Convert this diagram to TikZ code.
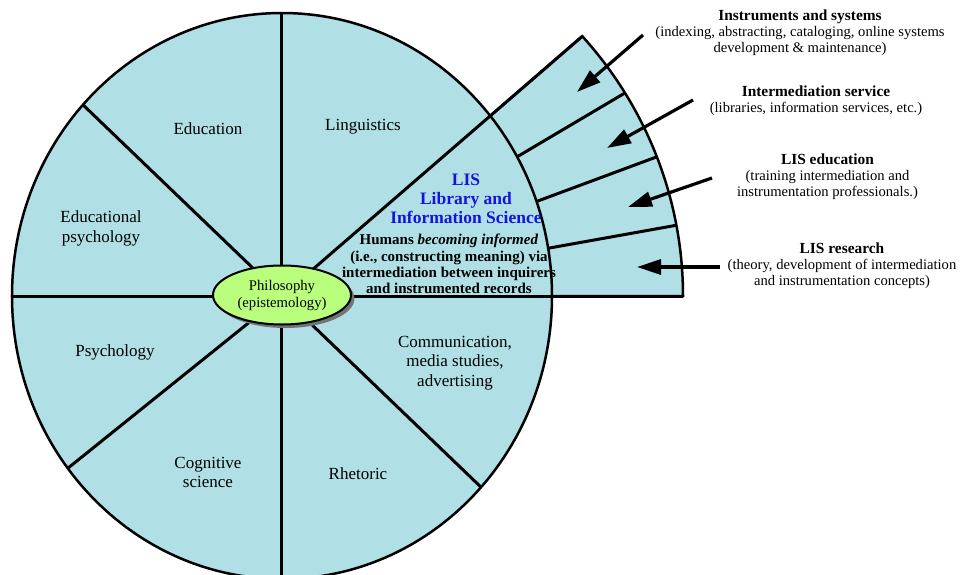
\documentclass[tikz,border=0pt]{standalone}
\usepackage{fontspec}
\setmainfont{Liberation Serif}
\usepackage{tikz}
\usetikzlibrary{arrows.meta,shapes.geometric,shadows}
\definecolor{lisfill}{RGB}{176,224,230}
\definecolor{philfill}{RGB}{185,255,125}
\definecolor{lisblue}{RGB}{20,20,220}

\begin{document}
\begin{tikzpicture}[x=1pt,y=1pt, every node/.style={font=\fontsize{17}{19.5}\selectfont,align=center}, spoke/.style={line width=3pt}, rim/.style={line width=2.5pt,fill=lisfill}, arr/.style={-{Triangle[length=24pt,width=15pt]},line width=3.2pt}, note/.style={font=\fontsize{14.6}{16}\selectfont,align=center}, philo/.style={ellipse,draw,line width=2pt,fill=philfill,minimum width=138pt,minimum height=59pt,inner sep=0pt,font=\fontsize{14.7}{17}\selectfont,drop shadow={shadow xshift=3.5pt,shadow yshift=-3.5pt,fill=black!55,opacity=1}}]
\useasboundingbox (-282,-278) rectangle (684,296);
\coordinate (o) at (0,0);
\draw[rim] (o) -- (0:401 and 392) arc[start angle=0,end angle=41.5,x radius=401,y radius=392] -- cycle;
\foreach \a in {10.4,20.8,31.2} \draw[spoke] (o) -- (\a:401 and 392);
\draw[rim] (o) ellipse[x radius=270,y radius=283];
\foreach \a in {90,137.5,180,217.5,270,317.5} \draw[spoke] (o) -- (\a:270 and 283);
\draw[spoke] (o) -- (0:401 and 392); \draw[spoke] (o) -- (41.5:401 and 392);
\node[philo] (phil) at (0,1) {Philosophy\\(epistemology)};
\node (ling) at (81,169) {Linguistics};
\node (educ) at (-74,167) {Education};
\node (edpsy) at (-181,67.5) {Educational\\psychology};
\node (psy) at (-167,-56) {Psychology};
\node (cogsci) at (-74,-176.5) {Cognitive\\science};
\node (rhet) at (76,-178) {Rhetoric};
\node (comm) at (173,-67) {Communication,\\media studies,\\advertising};
\node[font=\fontsize{17.5}{19}\selectfont\bfseries,text=lisblue] (lis) at (184,97) {LIS\\Library and\\Information Science};
\node[font=\fontsize{15}{16.3}\selectfont\bfseries] (hum) at (167,32) {Humans \textit{becoming informed}\\(i.e., constructing meaning) via\\intermediation between inquirers\\and instrumented records};
\node[note] (instr) at (518,263) {{\fontsize{15.4}{16}\selectfont\bfseries Instruments and systems}\\(indexing, abstracting, cataloging, online systems\\development \& maintenance)};
\node[note] (inter) at (534,195) {{\fontsize{15.4}{16}\selectfont\bfseries Intermediation service}\\(libraries, information services, etc.)};
\node[note] (lised) at (545.5,119) {{\fontsize{15.4}{16}\selectfont\bfseries LIS education}\\(training intermediation and\\instrumentation professionals.)};
\node[note] (lisres) at (560,30) {{\fontsize{15.4}{16}\selectfont\bfseries LIS research}\\(theory, development of intermediation\\and instrumentation concepts)};
\coordinate (s1) at (361,261); \coordinate (t1) at (295,204);
\coordinate (s2) at (411,196); \coordinate (t2) at (325,148);
\coordinate (s3) at (430,118); \coordinate (t3) at (346,89);
\coordinate (s4) at (438,29); \coordinate (t4) at (355,29);
\draw[arr] (s1)--(t1); \draw[arr] (s2)--(t2); \draw[arr] (s3)--(t3); \draw[arr] (s4)--(t4);
\end{tikzpicture}
\end{document}
